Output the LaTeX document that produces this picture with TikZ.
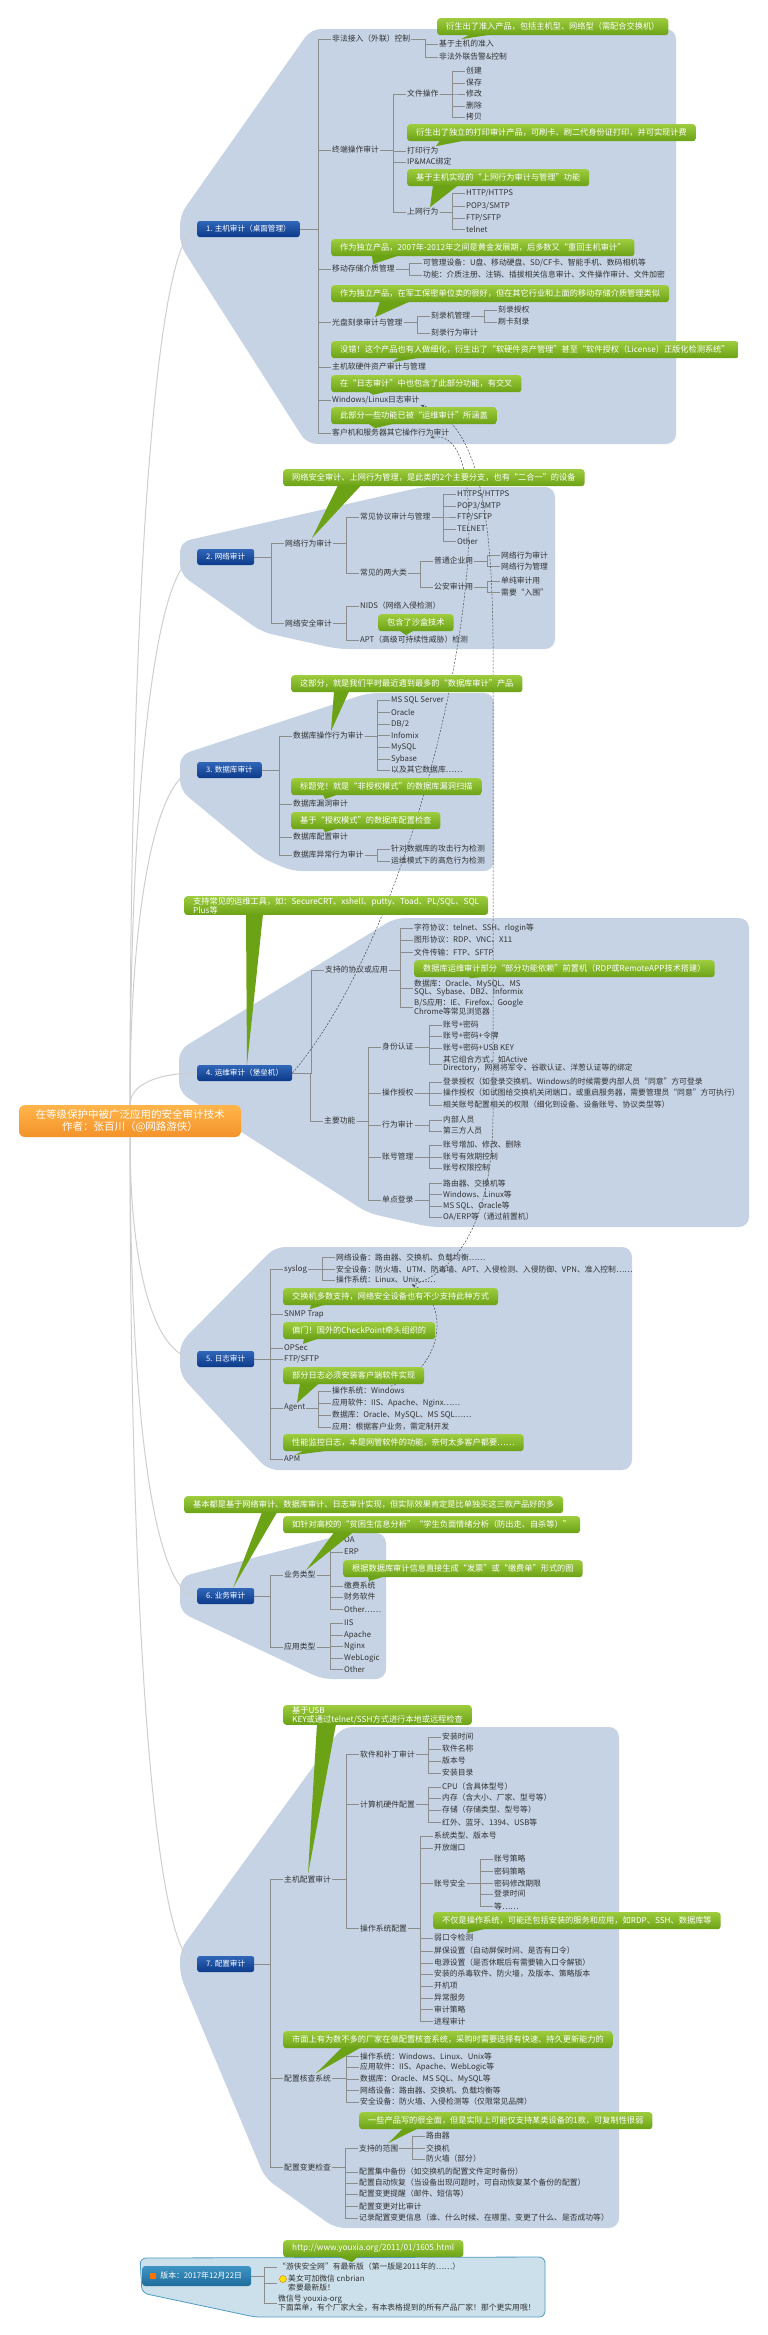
\documentclass[tikz,border=0pt]{standalone}
\usepackage{fontspec}
\setmainfont{Noto Sans CJK SC}
\usetikzlibrary{arrows.meta}
\definecolor{blob}{HTML}{C5D3E5}
\definecolor{vblob}{HTML}{CBE0EA}
\definecolor{vline}{HTML}{4F9DC4}
\definecolor{topictop}{HTML}{3066B8}
\definecolor{topicbot}{HTML}{0C3A8A}
\definecolor{notetop}{HTML}{9DCC3E}
\definecolor{notebot}{HTML}{6CA216}
\definecolor{roottop}{HTML}{FFB54A}
\definecolor{rootbot}{HTML}{F3922A}
\definecolor{vertop}{HTML}{3F95C4}
\definecolor{verbot}{HTML}{1D6C9C}
\definecolor{linegray}{HTML}{8C8C8C}
\definecolor{spokegray}{HTML}{CFCFCF}
\definecolor{ink}{HTML}{333333}

\begin{document}
\begin{tikzpicture}[x=1pt,y=-1pt,
 item/.style={anchor=west,inner sep=1pt,align=left,text=ink,font=\fontsize{7.8}{8.6}\selectfont},
 topic/.style={anchor=west,rounded corners=2.5pt,top color=topictop,bottom color=topicbot,text=white,font=\fontsize{7.6}{8}\selectfont,minimum height=16pt,inner xsep=9pt,inner ysep=0pt},
 rootbox/.style={rounded corners=6pt,top color=roottop,bottom color=rootbot,text=white,align=center,font=\fontsize{10.5}{12.5}\selectfont,minimum width=222pt,minimum height=32pt},
 verbox/.style={anchor=west,rounded corners=3pt,top color=vertop,bottom color=verbot,text=white,font=\fontsize{7.8}{8.6}\selectfont,minimum width=109pt,minimum height=20pt,inner xsep=4pt},
 note/.style={anchor=north west,rounded corners=3pt,top color=notetop,bottom color=notebot,text=white,align=left,font=\fontsize{8.2}{9.2}\selectfont,minimum height=17pt,inner xsep=9pt,inner ysep=1pt},
 tail/.style={fill=notebot},
 area/.style={fill=blob,rounded corners=10pt},
 branch/.style={draw=linegray,line width=0.5pt},
 spoke/.style={draw=spokegray,line width=1pt},
 rel/.style={draw=black!70,dash pattern=on 2pt off 1.5pt,line width=0.5pt,-{Stealth[length=4pt,width=3pt]}}]
\useasboundingbox (0,0) rectangle (768,2335);
\fill[white] (0,0) rectangle (768,2335);

% boundaries
\fill[area] (311,29) -- (676,29) -- (676,444) -- (307,444) -- (180,245) -- (180,215) -- cycle;
\fill[area] (422,487) -- (555,487) -- (555,649) -- (338,649) -- (262,632) -- (180,574) -- (180,542) -- cycle;
\fill[area] (368,693) -- (494,693) -- (494,871) -- (292,871) -- (262,858) -- (180,790) -- (180,755) -- cycle;
\fill[area] (395,918) -- (749,918) -- (749,1227) -- (430,1227) -- (368,1213) -- (179,1092) -- (179,1050) -- cycle;
\fill[area] (275,1247) -- (632,1247) -- (632,1470) -- (268,1470) -- (180,1375) -- (180,1343) -- cycle;
\fill[area] (349,1533) -- (386,1533) -- (386,1679) -- (322,1679) -- (180,1612) -- (180,1577) -- cycle;
\fill[area] (342,1727) -- (619,1727) -- (619,2228) -- (335,2228) -- (265,2178) -- (180,1975) -- (180,1950) -- cycle;
\filldraw[fill=vblob,draw=vline,line width=0.8pt,rounded corners=6pt] (140,2258) -- (545,2257) -- (545,2317) -- (255,2317) -- (142,2293) -- cycle;

\node[rootbox] (root) at (130,1121) {在等级保护中被广泛应用的安全审计技术\\作者：张百川（@网路游侠）};

% 1
\node[topic] (host) at (197,229) {1. 主机审计（桌面管理）};
\node[item] (fw) at (331,39) {非法接入（外联）控制};
\node[item] (fwa) at (438,44) {基于主机的准入};
\node[item] (fwb) at (438,57) {非法外联告警\&控制};
\node[item] (term) at (331,150) {终端操作审计};
\node[item] (file) at (406,94) {文件操作};
\node[item] (f1) at (465,71) {创建};
\node[item] (f2) at (465,83) {保存};
\node[item] (f3) at (465,94) {修改};
\node[item] (f4) at (465,106) {删除};
\node[item] (f5) at (465,117) {拷贝};
\node[item] (print) at (406,151) {打印行为};
\node[item] (ipmac) at (406,162) {IP\&MAC绑定};
\node[item] (web) at (406,212) {上网行为};
\node[item] (w1) at (465,193) {HTTP/HTTPS};
\node[item] (w2) at (465,206) {POP3/SMTP};
\node[item] (w3) at (465,218) {FTP/SFTP};
\node[item] (w4) at (465,229) {telnet};
\node[item] (usb) at (331,269) {移动存储介质管理};
\node[item] (usba) at (422,263) {可管理设备：U盘、移动硬盘、SD/CF卡、智能手机、数码相机等};
\node[item] (usbb) at (422,275) {功能：介质注册、注销、插拔相关信息审计、文件操作审计、文件加密};
\node[item] (cd) at (331,322) {光盘刻录审计与管理};
\node[item] (burner) at (430,316) {刻录机管理};
\node[item] (ba) at (497,310) {刻录授权};
\node[item] (bb) at (497,322) {刷卡刻录};
\node[item] (burnlog) at (430,333) {刻录行为审计};
\node[item] (asset) at (331,367) {主机软硬件资产审计与管理};
\node[item] (wlog) at (331,400) {Windows/Linux日志审计};
\node[item] (cli) at (331,433) {客户机和服务器其它操作行为审计};

% 2
\node[topic] (net) at (197,557) {2. 网络审计};
\node[item] (nbeh) at (284,543) {网络行为审计};
\node[item] (proto) at (359,517) {常见协议审计与管理};
\node[item] (p1) at (456,494) {HTTPS/HTTPS};
\node[item] (p2) at (456,506) {POP3/SMTP};
\node[item] (p3) at (456,517) {FTP/SFTP};
\node[item] (p4) at (456,529) {TELNET};
\node[item] (p5) at (456,541) {Other};
\node[item] (kinds) at (359,573) {常见的两大类};
\node[item] (corp) at (433,561) {普通企业用};
\node[item] (c1) at (500,555) {网络行为审计};
\node[item] (c2) at (500,566) {网络行为管理};
\node[item] (police) at (433,587) {公安审计用};
\node[item] (q1) at (500,581) {单纯审计用};
\node[item] (q2) at (500,592) {需要“入围”};
\node[item] (nsec) at (284,623) {网络安全审计};
\node[item] (nids) at (359,606) {NIDS（网络入侵检测）};
\node[item] (apt) at (359,640) {APT（高级可持续性威胁）检测};

% 3
\node[topic] (db) at (197,770) {3. 数据库审计};
\node[item] (dbop) at (292,736) {数据库操作行为审计};
\node[item] (d1) at (390,700) {MS SQL Server};
\node[item] (d2) at (390,712) {Oracle};
\node[item] (d3) at (390,724) {DB/2};
\node[item] (d4) at (390,735) {Infomix};
\node[item] (d5) at (390,747) {MySQL};
\node[item] (d6) at (390,759) {Sybase};
\node[item] (d7) at (390,770) {以及其它数据库……};
\node[item] (dbvul) at (292,804) {数据库漏洞审计};
\node[item] (dbcfg) at (292,837) {数据库配置审计};
\node[item] (dbodd) at (292,855) {数据库异常行为审计};
\node[item] (o1) at (390,849) {针对数据库的攻击行为检测};
\node[item] (o2) at (390,861) {运维模式下的高危行为检测};

% 4
\node[topic] (ops) at (197,1073) {4. 运维审计（堡垒机）};
\node[item] (supp) at (324,970) {支持的协议或应用};
\node[item] (a1) at (413,928) {字符协议：telnet、SSH、rlogin等};
\node[item] (a2) at (413,940) {图形协议：RDP、VNC、X11};
\node[item] (a3) at (413,952) {文件传输：FTP、SFTP};
\node[item] (a4) at (413,988) {数据库：Oracle、MySQL、MS\\SQL、Sybase、DB2、Informix};
\node[item] (a5) at (413,1007) {B/S应用：IE、Firefox、Google\\Chrome等常见浏览器};
\node[item] (func) at (323,1121) {主要功能};
\node[item] (auth) at (381,1047) {身份认证};
\node[item] (u1) at (442,1025) {账号+密码};
\node[item] (u2) at (442,1036) {账号+密码+令牌};
\node[item] (u3) at (442,1048) {账号+密码+USB KEY};
\node[item] (u4) at (442,1064) {其它组合方式，如Active\\Directory，网易将军令、谷歌认证、洋葱认证等的绑定};
\node[item] (grant) at (381,1093) {操作授权};
\node[item] (g1) at (442,1082) {登录授权（如登录交换机、Windows的时候需要内部人员“同意”方可登录};
\node[item] (g2) at (442,1093) {操作授权（如试图给交换机关闭端口，或重启服务器，需要管理员“同意”方可执行）};
\node[item] (g3) at (442,1105) {相关账号配置相关的权限（细化到设备、设备账号、协议类型等）};
\node[item] (act) at (381,1125) {行为审计};
\node[item] (h1) at (442,1120) {内部人员};
\node[item] (h2) at (442,1131) {第三方人员};
\node[item] (acct) at (381,1157) {账号管理};
\node[item] (m1) at (442,1145) {账号增加、修改、删除};
\node[item] (m2) at (442,1157) {账号有效期控制};
\node[item] (m3) at (442,1168) {账号权限控制};
\node[item] (sso) at (381,1200) {单点登录};
\node[item] (n1) at (442,1183) {路由器、交换机等};
\node[item] (n2) at (442,1194) {Windows、Linux等};
\node[item] (n3) at (442,1206) {MS SQL、Oracle等};
\node[item] (n4) at (442,1217) {OA/ERP等（通过前置机）};

% 5
\node[topic] (log) at (197,1359) {5. 日志审计};
\node[item] (syslog) at (283,1269) {syslog};
\node[item] (l1) at (335,1257) {网络设备：路由器、交换机、负载均衡……};
\node[item] (l2) at (335,1269) {安全设备：防火墙、UTM、防毒墙、APT、入侵检测、入侵防御、VPN、准入控制……};
\node[item] (l3) at (335,1280) {操作系统：Linux、Unix……};
\node[item] (snmp) at (283,1314) {SNMP Trap};
\node[item] (opsec) at (283,1348) {OPSec};
\node[item] (ftp) at (283,1359) {FTP/SFTP};
\node[item] (agent) at (283,1408) {Agent};
\node[item] (e1) at (331,1391) {操作系统：Windows};
\node[item] (e2) at (331,1403) {应用软件：IIS、Apache、Nginx……};
\node[item] (e3) at (331,1415) {数据库：Oracle、MySQL、MS SQL……};
\node[item] (e4) at (331,1427) {应用：根据客户业务，需定制开发};
\node[item] (apm) at (283,1459) {APM};

% 6
\node[topic] (biz) at (197,1596) {6. 业务审计};
\node[item] (btype) at (283,1575) {业务类型};
\node[item] (b1) at (343,1540) {OA};
\node[item] (b2) at (343,1552) {ERP};
\node[item] (b3) at (343,1586) {缴费系统};
\node[item] (b4) at (343,1597) {财务软件};
\node[item] (b5) at (343,1609) {Other……};
\node[item] (atype) at (283,1647) {应用类型};
\node[item] (t1) at (343,1623) {IIS};
\node[item] (t2) at (343,1635) {Apache};
\node[item] (t3) at (343,1646) {Nginx};
\node[item] (t4) at (343,1658) {WebLogic};
\node[item] (t5) at (343,1669) {Other};

% 7
\node[topic] (conf) at (197,1964) {7. 配置审计};
\node[item] (hostcfg) at (283,1879) {主机配置审计};
\node[item] (patch) at (359,1754) {软件和补丁审计};
\node[item] (k1) at (441,1737) {安装时间};
\node[item] (k2) at (441,1749) {软件名称};
\node[item] (k3) at (441,1761) {版本号};
\node[item] (k4) at (441,1773) {安装目录};
\node[item] (hw) at (359,1804) {计算机硬件配置};
\node[item] (hw1) at (441,1787) {CPU（含具体型号）};
\node[item] (hw2) at (441,1798) {内存（含大小、厂家、型号等）};
\node[item] (hw3) at (441,1810) {存储（存储类型、型号等）};
\node[item] (hw4) at (441,1822) {红外、蓝牙、1394、USB等};
\node[item] (oscfg) at (359,1928) {操作系统配置};
\node[item] (os1) at (433,1836) {系统类型、版本号};
\node[item] (os2) at (433,1848) {开放端口};
\node[item] (acsec) at (433,1883) {账号安全};
\node[item] (z1) at (493,1859) {账号策略};
\node[item] (z2) at (493,1871) {密码策略};
\node[item] (z3) at (493,1883) {密码修改期限};
\node[item] (z4) at (493,1894) {登录时间};
\node[item] (z5) at (493,1906) {等……};
\node[item] (os3) at (433,1938) {弱口令检测};
\node[item] (os4) at (433,1951) {屏保设置（自动屏保时间、是否有口令）};
\node[item] (os5) at (433,1963) {电源设置（是否休眠后有需要输入口令解锁）};
\node[item] (os6) at (433,1974) {安装的杀毒软件、防火墙，及版本、策略版本};
\node[item] (os7) at (433,1986) {开机项};
\node[item] (os8) at (433,1998) {异常服务};
\node[item] (os9) at (433,2009) {审计策略};
\node[item] (os10) at (433,2021) {进程审计};
\node[item] (chk) at (283,2078) {配置核查系统};
\node[item] (r1) at (359,2056) {操作系统：Windows、Linux、Unix等};
\node[item] (r2) at (359,2067) {应用软件：IIS、Apache、WebLogic等};
\node[item] (r3) at (359,2079) {数据库：Oracle、MS SQL、MySQL等};
\node[item] (r4) at (359,2090) {网络设备：路由器、交换机、负载均衡等};
\node[item] (r5) at (359,2102) {安全设备：防火墙、入侵检测等（仅限常见品牌）};
\node[item] (chg) at (283,2167) {配置变更检查};
\node[item] (span) at (358,2148) {支持的范围};
\node[item] (sc1) at (425,2136) {路由器};
\node[item] (sc2) at (425,2148) {交换机};
\node[item] (sc3) at (425,2159) {防火墙（部分）};
\node[item] (v1) at (358,2172) {配置集中备份（如交换机的配置文件定时备份）};
\node[item] (v2) at (358,2183) {配置自动恢复（当设备出现问题时，可自动恢复某个备份的配置）};
\node[item] (v3) at (358,2194) {配置变更提醒（邮件、短信等）};
\node[item] (v4) at (358,2206) {配置变更对比审计};
\node[item] (v5) at (358,2218) {记录配置变更信息（谁、什么时候、在哪里、变更了什么、是否成功等）};

% version
\node[verbox] (ver) at (142,2276) {\hspace*{9pt}版本：2017年12月22日};
\node[fill=orange!90!red,minimum size=6pt,inner sep=0pt,rounded corners=1pt] (flag) at ([xshift=11pt]ver.west) {};
\node[item] (y1) at (277,2267) {“游侠安全网”有最新版（第一版是2011年的……）};
\node[item] (y2) at (277,2283) {\hspace*{10pt}美女可加微信 cnbrian\\\hspace*{10pt}索要最新版！};
\node[circle,fill=yellow!85!orange,draw=orange!80!black,line width=0.3pt,minimum size=7pt,inner sep=0pt] (smile) at ([xshift=6pt,yshift=4pt]y2.west) {};
\node[item] (y3) at (277,2303) {微信号 youxia-org\\下面菜单，有个厂家大全，有本表格提到的所有产品厂家！那个更实用哦！};

% tree lines
\foreach \p/\ks in {host/{fw,term,usb,cd,asset,wlog,cli}, fw/{fwa,fwb}, term/{file,print,ipmac,web},
 file/{f1,f2,f3,f4,f5}, web/{w1,w2,w3,w4}, usb/{usba,usbb}, cd/{burner,burnlog}, burner/{ba,bb},
 net/{nbeh,nsec}, nbeh/{proto,kinds}, proto/{p1,p2,p3,p4,p5}, kinds/{corp,police}, corp/{c1,c2},
 police/{q1,q2}, nsec/{nids,apt}, db/{dbop,dbvul,dbcfg,dbodd}, dbop/{d1,d2,d3,d4,d5,d6,d7}, dbodd/{o1,o2},
 ops/{supp,func}, supp/{a1,a2,a3,a4,a5}, func/{auth,grant,act,acct,sso}, auth/{u1,u2,u3,u4},
 grant/{g1,g2,g3}, act/{h1,h2}, acct/{m1,m2,m3}, sso/{n1,n2,n3,n4},
 log/{syslog,snmp,opsec,ftp,agent,apm}, syslog/{l1,l2,l3}, agent/{e1,e2,e3,e4},
 biz/{btype,atype}, btype/{b1,b2,b3,b4,b5}, atype/{t1,t2,t3,t4,t5},
 conf/{hostcfg,chk,chg}, hostcfg/{patch,hw,oscfg}, patch/{k1,k2,k3,k4}, hw/{hw1,hw2,hw3,hw4},
 oscfg/{os1,os2,acsec,os3,os4,os5,os6,os7,os8,os9,os10}, acsec/{z1,z2,z3,z4,z5},
 chk/{r1,r2,r3,r4,r5}, chg/{span,v1,v2,v3,v4,v5}, span/{sc1,sc2,sc3}, ver/{y1,y2,y3}}
 \foreach \k in \ks \draw[branch] (\p.east) -| ([xshift=-13pt]\k.west) -- (\k.west);

% main branches
\foreach \t/\h in {host/520,net/330,db/200,ops/20}
 \draw[spoke] (root.north) .. controls +(0,-\h) and +(-40,0) .. (\t.west);
\foreach \t/\h in {log/140,biz/300,conf/520}
 \draw[spoke] (root.south) .. controls +(0,\h) and +(-40,0) .. (\t.west);

% relations
\draw[rel] (ops.east) .. controls (440,900) and (520,420) .. ([xshift=-20pt]cli.south east);
\draw[rel] ([xshift=-25pt]l3.south east) .. controls (450,1275) and (494,1230) .. (493,1110) -- (493,640) .. controls (492,520) and (480,420) .. (wlog.south east);
\draw[rel] ([xshift=-15pt]e1.north east) .. controls (445,1370) and (450,1300) .. ([xshift=-25pt]l3.south east);

% callouts
\node[note] (tnac) at (437,18) {衍生出了准入产品，包括主机型、网络型（需配合交换机）};
\node[note] (tprn) at (407,124) {衍生出了独立的打印审计产品，可刷卡、刷二代身份证打印，并可实现计费};
\node[note] (tweb) at (407,169) {基于主机实现的“上网行为审计与管理”功能};
\node[note] (tusb) at (331,239) {作为独立产品，2007年-2012年之间是黄金发展期，后多数又“重回主机审计”};
\node[note] (tcd) at (331,285) {作为独立产品，在军工保密单位卖的很好，但在其它行业和上面的移动存储介质管理类似};
\node[note] (tasset) at (331,341) {没错！这个产品也有人做细化，衍生出了“软硬件资产管理”甚至“软件授权（License）正版化检测系统”};
\node[note] (tlog) at (331,375) {在“日志审计”中也包含了此部分功能，有交叉};
\node[note] (tops) at (331,407) {此部分一些功能已被“运维审计”所涵盖};
\node[note] (tnet) at (283,469) {网络安全审计、上网行为管理，是此类的2个主要分支，也有“二合一”的设备};
\node[note] (tbox) at (378,614) {包含了沙盒技术};
\node[note] (tdb) at (291,675) {这部分，就是我们平时最近遇到最多的“数据库审计”产品};
\node[note] (tvul) at (291,778) {标题党！就是“非授权模式”的数据库漏洞扫描};
\node[note] (tcfg) at (291,812) {基于“授权模式”的数据库配置检查};
\node[note] (ttool) at (184,896) {支持常见的运维工具，如：SecureCRT、xshell、putty、Toad、PL/SQL、SQL\\Plus等};
\node[note] (tfront) at (414,960) {数据库运维审计部分“部分功能依赖”前置机（RDP或RemoteAPP技术搭建）};
\node[note] (tsw) at (283,1288) {交换机多数支持，网络安全设备也有不少支持此种方式};
\node[note] (tcp) at (283,1322) {偏门！国外的CheckPoint牵头组织的};
\node[note] (tagent) at (283,1367) {部分日志必须安装客户端软件实现};
\node[note] (tapm) at (283,1434) {性能监控日志，本是网管软件的功能，奈何太多客户都要……};
\node[note] (tbiz) at (184,1496) {基本都是基于网络审计、数据库审计、日志审计实现，但实际效果肯定是比单独买这三款产品好的多};
\node[note] (tedu) at (283,1516) {如针对高校的“贫困生信息分析”“学生负面情绪分析（防出走、自杀等）”};
\node[note] (tbill) at (343,1560) {根据数据库审计信息直接生成“发票”或“缴费单”形式的图};
\node[note] (tkey) at (283,1705) {基于USB\\KEY或通过telnet/SSH方式进行本地或远程检查};
\node[note] (tsvc) at (433,1912) {不仅是操作系统，可能还包括安装的服务和应用，如RDP、SSH、数据库等};
\node[note] (tvendor) at (283,2031) {市面上有为数不多的厂家在做配置核查系统，采购时需要选择有快速、持久更新能力的};
\node[note] (trange) at (359,2112) {一些产品写的很全面，但是实际上可能仅支持某类设备的1款，可复制性很弱};
\node[note] (turl) at (283,2240) {http://www.youxia.org/2011/01/1605.html};

\foreach \n/\a/\b/\t/\d in {tnac/33/55/fwa/23, tprn/33/58/print/30, tweb/26/51/web/24, tusb/41/68/usb/42,
 tcd/49/79/cd/44, tasset/68/91/asset/61, tlog/37/57/wlog/42, tops/37/64/cli/44, tnet/55/78/nbeh/28,
 tbox/21/36/apt/47, tdb/43/58/dbop/39, tvul/32/47/dbvul/33, tcfg/32/47/dbcfg/33, ttool/62/79/ops/50,
 tfront/57/73/a4/56, tsw/28/43/snmp/27, tcp/21/36/opsec/20, tagent/17/36/agent/14, tapm/21/47/apm/12,
 tbiz/78/93/biz/36, tedu/51/70/btype/23, tbill/25/41/b3/26, tkey/34/53/hostcfg/25, tsvc/35/54/os3/34,
 tvendor/59/78/chk/33, trange/44/59/span/30, turl/55/75/y1/75}
 \fill[tail] ([xshift=\a pt,yshift=1pt]\n.south west) -- ([xshift=\d pt]\t.north west) -- ([xshift=\b pt,yshift=1pt]\n.south west) -- cycle;
\end{tikzpicture}
\end{document}
